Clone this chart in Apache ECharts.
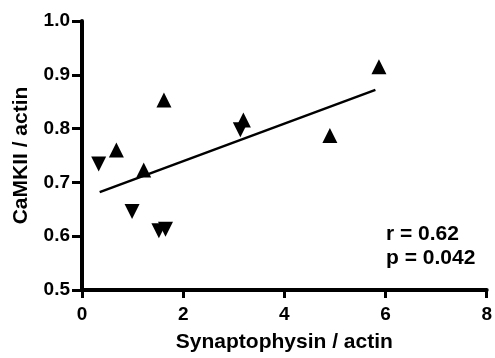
<!DOCTYPE html>
<html>
<head>
<meta charset="utf-8">
<script src="https://cdn.jsdelivr.net/npm/echarts@6/dist/echarts.min.js"></script>
</head>
<body style="margin:0;background:#fff">
<div id="chart" style="width:495px;height:358px"></div>
<script>
// up-pointing triangles [synaptophysin, CaMKII]
const upPoints = [
  [0.68, 0.760],
  [1.22, 0.723],
  [1.62, 0.853],
  [3.19, 0.816],
  [4.90, 0.787],
  [5.87, 0.915]
];
// down-pointing triangles
const downPoints = [
  [0.33, 0.734],
  [0.99, 0.646],
  [1.52, 0.610],
  [1.65, 0.613],
  [3.13, 0.798]
];
const fitLine = [[0.35, 0.682], [5.80, 0.872]];
const statLines = ['r = 0.62', 'p = 0.042'];

const font = '"Liberation Sans", Arial, sans-serif';
const xRange = { min: 0, max: 8, interval: 2 };
const yRange = { min: 0.5, max: 1.0, interval: 0.1 };

// axis 0 draws the line and ticks, axis 1 carries labels and the name
const lineAxis = (range, pos, len) => Object.assign({
  type: 'value', position: pos,
  axisLine: { show: true, onZero: false, lineStyle: { color: '#000', width: 4 } },
  axisTick: { show: true, length: len, lineStyle: { color: '#000', width: 3 } },
  axisLabel: { show: false },
  splitLine: { show: false }
}, range);

const labelAxis = (range, pos, name, gap, margin, fmt) => Object.assign({
  type: 'value', position: pos,
  name: name, nameLocation: 'middle', nameGap: gap,
  nameTextStyle: { fontFamily: font, fontWeight: 'bold', fontSize: 21, color: '#000' },
  axisLine: { show: false, onZero: false },
  axisTick: { show: false },
  axisLabel: { fontFamily: font, fontWeight: 'bold', fontSize: 19, color: '#000', margin: margin, formatter: fmt },
  splitLine: { show: false }
}, range);

const chart = echarts.init(document.getElementById('chart'));
chart.setOption({
  animation: false,
  grid: { left: 82, right: 7, top: 21, bottom: 64 },
  xAxis: [
    lineAxis(xRange, 'bottom', 8),
    labelAxis(xRange, 'bottom', 'Synaptophysin / actin', 42, 15, '{value}')
  ],
  yAxis: [
    lineAxis(yRange, 'left', 10),
    labelAxis(yRange, 'left', 'CaMKII / actin', 50, 12, v => v.toFixed(1))
  ],
  series: [
    {
      type: 'scatter', data: upPoints, symbol: 'triangle', symbolSize: 15,
      itemStyle: { color: '#000', opacity: 1 }
    },
    {
      type: 'scatter', data: downPoints, symbol: 'triangle', symbolSize: 15,
      symbolRotate: 180, itemStyle: { color: '#000', opacity: 1 }
    },
    {
      type: 'line', data: fitLine, symbol: 'none',
      lineStyle: { color: '#000', width: 2.5 }
    }
  ],
  graphic: statLines.map((t, i) => ({
    type: 'text', left: 386, top: 224 + i * 24,
    style: { text: t, fontFamily: font, fontWeight: 'bold', fontSize: 21, fill: '#000' }
  }))
});
</script>
</body>
</html>
